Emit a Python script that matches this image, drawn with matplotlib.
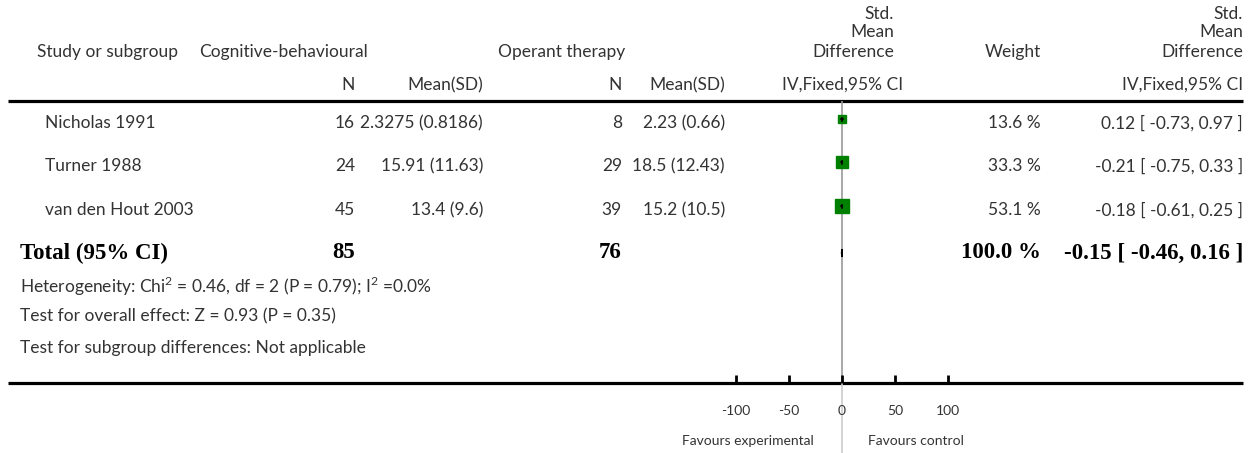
#!/usr/bin/env python3
import matplotlib
matplotlib.use('Agg')
import matplotlib.pyplot as plt
import numpy as np

plt.rcParams['font.family'] = ['Lato', 'DejaVu Sans']
plt.rcParams['font.size'] = 12.5

# data
studies = ['Nicholas 1991', 'Turner 1988', 'van den Hout 2003']
n_cb = [16, 24, 45]
mean_cb = ['2.3275 (0.8186)', '15.91 (11.63)', '13.4 (9.6)']
n_op = [8, 29, 39]
mean_op = ['2.23 (0.66)', '18.5 (12.43)', '15.2 (10.5)']
smd = [0.12, -0.21, -0.18]
ci_low = [-0.73, -0.75, -0.61]
ci_high = [0.97, 0.33, 0.25]
weights = [13.6, 33.3, 53.1]
total_n_cb = 85
total_n_op = 76
total_smd = -0.15
total_low = -0.46
total_high = 0.16
total_weight = 100.0
axis_ticks = [-100, -50, 0, 50, 100]
footnotes = ['Heterogeneity: Chi$^2$ = 0.46, df = 2 (P = 0.79); I$^2$ =0.0%',
             'Test for overall effect: Z = 0.93 (P = 0.35)',
             'Test for subgroup differences: Not applicable']

W, H = 1257, 453
fig = plt.figure(figsize=(W / 100, H / 100), dpi=100)
bg = fig.add_axes([0, 0, 1, 1])
bg.set_xlim(0, W)
bg.set_ylim(H, 0)
bg.axis('off')

txt = '#333333'
serif = ['Liberation Serif', 'DejaVu Serif']
plt.rcParams['mathtext.fontset'] = 'custom'
plt.rcParams['mathtext.rm'] = 'Lato'

def t(x, y, s, ha='left', **kw):
    bg.text(x, y, s, ha=ha, va='center', color=txt, **kw)

# header
t(37, 52, 'Study or subgroup')
t(199, 52, 'Cognitive-behavioural')
t(498, 52, 'Operant therapy')
t(355, 85, 'N', ha='right')
t(483, 85, 'Mean(SD)', ha='right')
t(622, 85, 'N', ha='right')
t(725, 85, 'Mean(SD)', ha='right')
t(894, 14, 'Std.', ha='right')
t(894, 32, 'Mean', ha='right')
t(894, 52, 'Difference', ha='right')
t(843, 85, 'IV,Fixed,95% CI', ha='center')
t(1041, 52, 'Weight', ha='right')
t(1243, 14, 'Std.', ha='right')
t(1243, 32, 'Mean', ha='right')
t(1243, 52, 'Difference', ha='right')
t(1243, 85, 'IV,Fixed,95% CI', ha='right')

bg.plot([8, 1243], [101, 101], color='black', lw=2.3, solid_capstyle='butt')
bg.plot([8, 1243], [383, 383], color='black', lw=2.3, solid_capstyle='butt')

row_y = [119, 162, 206]
for i, y in enumerate(row_y):
    yt = y + 4
    t(45, yt, studies[i])
    t(355, yt, str(n_cb[i]), ha='right')
    t(483, yt, mean_cb[i], ha='right')
    t(622, yt, str(n_op[i]), ha='right')
    t(725, yt, mean_op[i], ha='right')
    t(1041, yt, '%.1f %%' % weights[i], ha='right')
    t(1243, yt, '%.2f [ %.2f, %.2f ]' % (smd[i], ci_low[i], ci_high[i]), ha='right')

ty = 253
bfont = dict(family=serif, fontweight='bold', fontsize=16.5)
bg.text(20, ty, 'Total (95% CI)', ha='left', va='center', color='black', **bfont)
bg.text(355, ty, str(total_n_cb), ha='right', va='center', color='black', **bfont)
bg.text(622, ty, str(total_n_op), ha='right', va='center', color='black', **bfont)
bg.text(1041, ty, '%.1f %%' % total_weight, ha='right', va='center', color='black', **bfont)
bg.text(1243, ty, '%.2f [ %.2f, %.2f ]' % (total_smd, total_low, total_high),
        ha='right', va='center', color='black', **bfont)

for s, y in zip(footnotes, [286, 316, 348]):
    t(20, y, s)

t(814, 441, 'Favours experimental', ha='right', fontsize=10)
t(868, 441, 'Favours control', ha='left', fontsize=10)

# forest axes
x0, x1 = 736, 948
ax = fig.add_axes([x0 / W, 1 - 383 / H, (x1 - x0) / W, (383 - 101) / H])
ax.set_xlim(axis_ticks[0], axis_ticks[-1])
ax.set_ylim(383, 101)
ax.patch.set_alpha(0)
for sp in ['top', 'left', 'right', 'bottom']:
    ax.spines[sp].set_visible(False)
ax.set_yticks([])
ax.set_xticks(axis_ticks)
ax.set_xticklabels([str(v) for v in axis_ticks], fontsize=10, color=txt)
ax.tick_params(axis='x', direction='in', length=6, width=2, pad=16)

ax.axvline(0, color='#999999', lw=1.2, zorder=1)
bg.plot([842, 842], [383, 453], color='#cccccc', lw=1.2)

for i, y in enumerate(row_y):
    ax.plot([ci_low[i], ci_high[i]], [y, y], color='black', lw=1.2, zorder=3)
    side = 2 * np.sqrt(weights[i]) * 0.72
    ax.plot(smd[i], y, marker='s', ms=side, color='#008000', mec='#008000', zorder=2)
    ax.plot([smd[i], smd[i]], [y - 1.5, y + 1.5], color='black', lw=1.2, zorder=3)

ax.fill([total_low, total_smd, total_high, total_smd],
        [ty, ty - 4, ty, ty + 4], color='black', lw=1, ec='black', zorder=3)

fig.savefig('out.png', dpi=100)
